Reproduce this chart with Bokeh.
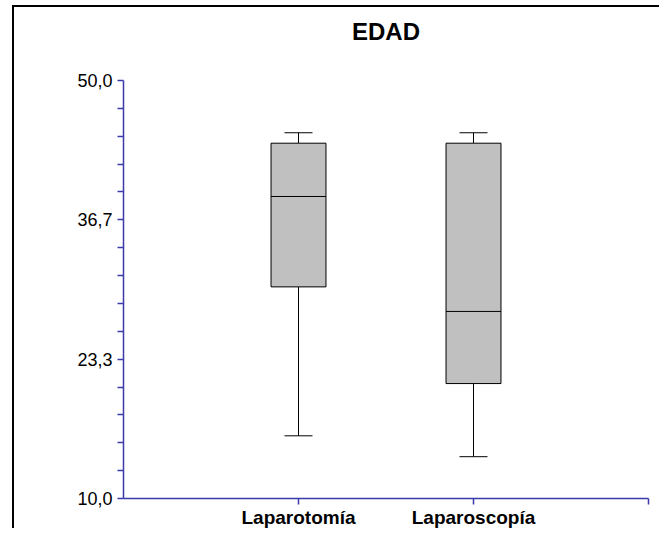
from bokeh.plotting import figure
from bokeh.models import (Range1d, LinearAxis, FixedTicker, CustomJSTickFormatter,
                          ColumnDataSource, Title)
from bokeh.transform import dodge
from bokeh.embed import file_html
from bokeh.resources import INLINE

# ---- data ----
TITLE = "EDAD"
CATEGORIES = ["Laparotomía", "Laparoscopía"]
POSITIONS = [1, 2]
WHISKER_LOW = [16.0, 14.0]
Q1 = [30.25, 21.0]
MEDIAN = [38.9, 27.9]
Q3 = [44.0, 44.0]
WHISKER_HIGH = [45.0, 45.0]
Y_TICKS = [10.0, 23.333, 36.667, 50.0]
Y_MINOR_TICKS = [12.667, 15.333, 18.0, 20.667, 26.0, 28.667, 31.333, 34.0,
                 39.333, 42.0, 44.667, 47.333]
X_TICKS = [1, 2, 3]

AXIS_COLOR = "#3a3aaa"
FONT = "Liberation Sans"

src = ColumnDataSource(dict(x=POSITIONS, lo=WHISKER_LOW, q1=Q1, med=MEDIAN,
                            q3=Q3, hi=WHISKER_HIGH))

p = figure(width=647, height=523, x_range=Range1d(0, 3), y_range=Range1d(10, 50),
           output_backend="svg", toolbar_location=None,
           x_axis_location=None, y_axis_location=None,
           min_border_left=109, min_border_right=13,
           min_border_top=73, min_border_bottom=32)
p.grid.visible = False
p.outline_line_color = None
p.background_fill_color = "white"
p.border_fill_color = "white"
p.styles = {"margin-left": "12px", "margin-top": "5px",
            "border-left": "2px solid black", "border-top": "2px solid black"}

# real title (outermost) and an empty spacer between it and the frame
p.title.text = TITLE
p.title.align = "center"
p.title.vertical_align = "top"
p.title.text_font = FONT
p.title.text_font_size = "24px"
p.title.text_font_style = "bold"
p.title.text_color = "black"
p.title.standoff = 8
p.add_layout(Title(text=" ", text_font_size="10px", standoff=17), "above")

# y axis
yax = LinearAxis(ticker=FixedTicker(ticks=Y_TICKS, minor_ticks=Y_MINOR_TICKS),
                 formatter=CustomJSTickFormatter(code="return tick.toFixed(1).replace('.', ',');"))
yax.axis_line_color = AXIS_COLOR
yax.axis_line_width = 1.5
yax.major_tick_line_color = AXIS_COLOR
yax.minor_tick_line_color = AXIS_COLOR
yax.major_tick_line_width = 1.5
yax.minor_tick_line_width = 1.5
yax.major_tick_in = 0
yax.major_tick_out = 6
yax.minor_tick_in = 0
yax.minor_tick_out = 6
yax.major_label_text_font = FONT
yax.major_label_text_font_size = "18px"
yax.major_label_text_color = "black"
yax.major_label_standoff = 5
p.add_layout(yax, "left")

# x axis
xax = LinearAxis(ticker=FixedTicker(ticks=X_TICKS, minor_ticks=[]))
overrides = {POSITIONS[i]: CATEGORIES[i] for i in range(len(CATEGORIES))}
overrides[X_TICKS[-1]] = ""
xax.major_label_overrides = overrides
xax.axis_line_color = AXIS_COLOR
xax.axis_line_width = 1.5
xax.major_tick_line_color = AXIS_COLOR
xax.major_tick_line_width = 1.5
xax.major_tick_in = 0
xax.major_tick_out = 6
xax.minor_tick_line_color = None
xax.major_label_text_font = FONT
xax.major_label_text_font_size = "19px"
xax.major_label_text_font_style = "bold"
xax.major_label_text_color = "black"
xax.major_label_standoff = 2
p.add_layout(xax, "below")

# boxes
BOX_W = 0.314
CAP_W = 0.16
p.segment(x0="x", y0="q3", x1="x", y1="hi", source=src, line_color="black", line_width=1)
p.segment(x0="x", y0="lo", x1="x", y1="q1", source=src, line_color="black", line_width=1)
p.segment(x0=dodge("x", -CAP_W / 2), y0="hi", x1=dodge("x", CAP_W / 2), y1="hi",
          source=src, line_color="black", line_width=1)
p.segment(x0=dodge("x", -CAP_W / 2), y0="lo", x1=dodge("x", CAP_W / 2), y1="lo",
          source=src, line_color="black", line_width=1)
p.vbar(x="x", bottom="q1", top="q3", width=BOX_W, source=src,
       fill_color="#c0c0c0", line_color="black", line_width=1)
p.segment(x0=dodge("x", -BOX_W / 2), y0="med", x1=dodge("x", BOX_W / 2), y1="med",
          source=src, line_color="black", line_width=1)

open("out.html", "w").write(file_html(p, INLINE))
